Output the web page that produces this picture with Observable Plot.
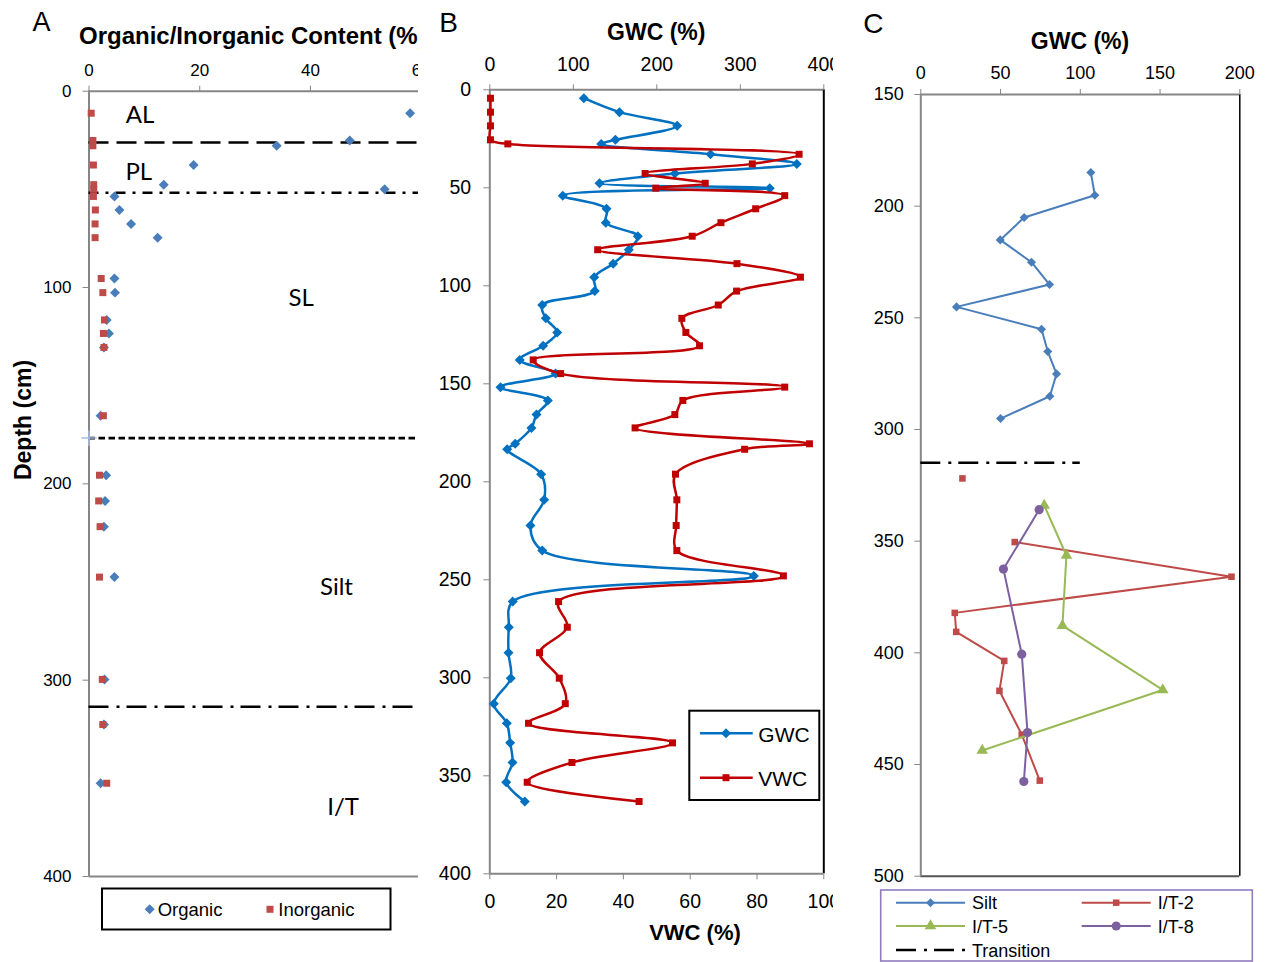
<!DOCTYPE html>
<html><head><meta charset="utf-8">
<script src="https://cdn.jsdelivr.net/npm/d3@7"></script>
<script src="https://cdn.jsdelivr.net/npm/@observablehq/plot@0.6"></script>
<style>
body{margin:0;background:#fff;}
#wrap{position:relative;width:1265px;height:962px;overflow:hidden;background:#fff;}
.panel{position:absolute;top:0;height:962px;overflow:hidden;}
.panel svg{position:absolute;left:0;top:0;max-width:none !important;}
#overlay{position:absolute;left:0;top:0;pointer-events:none;}
</style></head><body><div id="wrap"></div>
<script>
// ---------------- DATA ----------------
// Panel A: organic / inorganic content (%) vs depth (cm)
const aDepth      = [11.2,25.1,27.8,37.6,47.6,50.0,53.6,60.5,67.6,74.6,95.4,102.6,116.5,123.4,130.5,165.3,195.6,208.7,221.8,247.5,299.6,322.6,352.5];
const aOrganic    = [58.0,47.1,33.9,18.9,13.5,53.4,4.6,5.5,7.6,12.4,4.6,4.7,3.2,3.6,2.7,2.1,3.1,2.9,2.7,4.6,2.8,2.7,2.1];
const aInorganic  = [0.4,0.7,0.7,0.8,0.85,0.85,0.8,1.15,1.1,1.1,2.2,2.5,2.8,2.6,2.7,2.6,1.9,1.75,2.0,1.9,2.4,2.5,3.2];
const aBoundaries = [26.1, 51.7, 176.7, 313.5];           // AL/PL, PL/SL, SL/Silt, Silt/I-T
const aZoneNames  = ["AL","PL","SL","Silt","I/T"];
const aZoneX      = [9.2, 9.0, 38.3, 44.7, 45.9];
const aZoneDepth  = [12.5, 41.5, 105.4, 252.9, 364.6];
const aTicksX = [0,20,40,60];
const aTicksY = [0,100,200,300,400];

// Panel B: GWC (%) and VWC (%) vs depth (cm)
const bDepth = [4.3,11.4,18.4,25.5,27.6,32.9,37.8,42.7,47.7,50.2,54.0,60.7,67.8,74.7,81.6,88.7,95.6,102.7,109.8,116.6,123.8,130.6,137.8,144.8,151.7,158.5,165.7,172.5,180.6,183.4,196.1,209.2,222.3,235.1,248.0,261.1,274.2,287.2,300.2,313.2,323.2,333.2,343.2,353.3,363.1];
const bGWC   = [112.6,155.3,224.4,150.5,133.4,264.3,367.7,221.6,131.4,335.3,87.4,139.8,138.9,177.3,166.5,147.8,125.0,125.7,62.8,67.1,80.7,63.9,35.9,78.7,12.8,69.5,55.9,49.9,30.4,20.8,61.5,65.1,48.7,62.8,316.2,27.5,22.8,22.4,25.1,4.8,20.4,24.4,27.2,19.6,41.9];
const bVWC   = [0.2,0.2,0.2,0.2,5.4,92.6,78.6,46.5,64.5,49.7,88.3,79.6,69.2,60.6,32.3,74.0,93.0,73.9,68.4,57.5,58.7,62.8,13.0,21.2,88.3,57.8,55.4,43.5,95.7,76.3,55.6,56.0,55.8,56.0,87.9,20.6,23.2,14.9,20.8,22.6,11.6,54.7,24.6,11.2,44.7];
const bTicksGWC = [0,100,200,300,400];
const bTicksVWC = [0,20,40,60,80,100];
const bTicksY   = [0,50,100,150,200,250,300,350,400];

// Panel C: GWC (%) vs depth (cm) for four cores
const siltDepth = [184.9,195.1,205.1,215.1,225.1,235.1,245.1,255.1,265.1,275.1,285.1,295.1];
const siltGWC   = [106.6,109.1,64.8,49.8,69.4,80.7,22.4,75.7,79.6,85.1,80.9,50.0];
const it2Depth  = [321.9,350.4,365.9,382.1,390.6,403.6,417.0,436.6,457.2];
const it2GWC    = [26.1,58.9,194.8,21.3,22.2,52.3,49.3,63.3,74.6];
const it2Run    = [1,2,2,2,2,2,2,2,2];   // first sample is not joined to the rest
const it5Depth  = [334.0,356.4,387.8,416.6,443.7];
const it5GWC    = [77.4,91.3,88.8,151.7,38.5];
const it8Depth  = [335.9,362.5,400.6,435.7,457.6];
const it8GWC    = [74.2,51.8,63.3,66.9,64.6];
const cTransitionDepth = 314.9;
const cTransitionExtent = [0, 100];
const cTicksX = [0,50,100,150,200];
const cTicksY = [150,200,250,300,350,400,450,500];

// ---------------- STYLE ----------------
const FONT = "'Liberation Sans', Arial, sans-serif";
const AXIS = "#868686";
const COL = {org:"#4a7ebb", inorg:"#be4b48", gwc:"#0070c0", vwc:"#c00000",
             silt:"#4a7ebb", it2:"#be4b48", it5:"#98b954", it8:"#7d60a0"};
const aDash = ["20,8", "10,7,3,7", "6.5,3.5", "20,8,3,7"];

const wrap = document.getElementById("wrap");
function panel(left, width){
  const d = document.createElement("div");
  d.className = "panel"; d.style.left = left + "px"; d.style.width = width + "px";
  wrap.appendChild(d); return d;
}
const st = bg => ({fontFamily: FONT, background: bg, overflow: "visible", maxWidth: "none"});

// ---------------- PANEL A ----------------
const A = aDepth.map((d,i)=>({depth:d, organic:aOrganic[i], inorganic:aInorganic[i]}));
const zones = aZoneNames.map((n,i)=>({name:n, x:aZoneX[i], depth:aZoneDepth[i]}));
const plotA = Plot.plot({
  width: 430, height: 962,
  marginLeft: 88.5, marginRight: 9.3, marginTop: 90.7, marginBottom: 86,
  x: {domain:[0,60]}, y: {domain:[0,400], reverse:true},
  style: st("white"),
  marks: [
    Plot.ruleY([0], {stroke: AXIS, strokeWidth: 2}),
    Plot.ruleY([400], {stroke: AXIS, strokeWidth: 2}),
    Plot.ruleX([0], {stroke: AXIS, strokeWidth: 2}),
    Plot.axisX({anchor:"top", ticks:aTicksX, tickSize:6, tickPadding:9.7, fontSize:17, stroke:AXIS, fill:"black", label:null}),
    Plot.axisY({anchor:"left", ticks:aTicksY, tickSize:6, tickPadding:11.5, fontSize:17, stroke:AXIS, fill:"black", label:null}),
    ...aBoundaries.map((b,i)=>Plot.ruleY([b], {stroke:"black", strokeWidth:2.6, strokeDasharray:aDash[i]})),
    Plot.dot([aBoundaries[2]], {x:0, y:d=>d, symbol:"plus", r:5, stroke:"#a9bfe3", strokeWidth:1.5}),
    Plot.dot(A, {x:"organic", y:"depth", symbol:"diamond2", r:4.5, fill:COL.org, stroke:"none"}),
    Plot.dot(A, {x:"inorganic", y:"depth", symbol:"square", r:3.95, fill:COL.inorg, stroke:"none"}),
    Plot.text(zones, {x:"x", y:"depth", text:"name", fontSize:24, fontFamily:"Lato, 'Open Sans', sans-serif", fill:"black", textAnchor:"middle", lineAnchor:"middle"})
  ]
});
panel(0, 418).appendChild(plotA);

// ---------------- PANEL B ----------------
const B = bDepth.map((d,i)=>({depth:d, gwc:bGWC[i], vwc:bVWC[i]}));
const pB = panel(430, 403);
const plotB1 = Plot.plot({
  width: 420, height: 962,
  marginLeft: 59.3, marginRight: 26.7, marginTop: 89.3, marginBottom: 88.7,
  x: {domain:[0,400]}, y: {domain:[0,400], reverse:true},
  style: st("white"),
  marks: [
    Plot.ruleY([0], {stroke: AXIS, strokeWidth: 2}),
    Plot.ruleX([0], {stroke: AXIS, strokeWidth: 2}),
    Plot.ruleX([400], {stroke: "black", strokeWidth: 2}),
    Plot.axisX({anchor:"top", ticks:bTicksGWC, tickSize:6, tickPadding:12.5, fontSize:19.5, stroke:AXIS, fill:"black", label:null}),
    Plot.axisY({anchor:"left", ticks:bTicksY, tickSize:6, tickPadding:12.6, fontSize:19.5, stroke:AXIS, fill:"black", label:null}),
    Plot.line(B, {x:"gwc", y:"depth", curve:"catmull-rom", stroke:COL.gwc, strokeWidth:2.5}),
    Plot.dot(B, {x:"gwc", y:"depth", symbol:"diamond2", r:4.5, fill:COL.gwc, stroke:"none"})
  ]
});
const plotB2 = Plot.plot({
  width: 420, height: 962,
  marginLeft: 59.3, marginRight: 26.7, marginTop: 89.3, marginBottom: 88.7,
  x: {domain:[0,100]}, y: {domain:[0,400], reverse:true, axis:null},
  style: st("transparent"),
  marks: [
    Plot.ruleY([400], {stroke: AXIS, strokeWidth: 2}),
    Plot.axisX({anchor:"bottom", ticks:bTicksVWC, tickSize:6, tickPadding:14, fontSize:19.5, stroke:AXIS, fill:"black", label:null}),
    Plot.line(B, {x:"vwc", y:"depth", curve:"catmull-rom", stroke:COL.vwc, strokeWidth:2.5}),
    Plot.dot(B, {x:"vwc", y:"depth", symbol:"square", r:3.95, fill:COL.vwc, stroke:"none"})
  ]
});
pB.appendChild(plotB1); pB.appendChild(plotB2);

// ---------------- PANEL C ----------------
const silt = siltDepth.map((d,i)=>({depth:d, gwc:siltGWC[i]}));
const it2 = it2Depth.map((d,i)=>({depth:d, gwc:it2GWC[i], run:it2Run[i]}));
const it5 = it5Depth.map((d,i)=>({depth:d, gwc:it5GWC[i]}));
const it8 = it8Depth.map((d,i)=>({depth:d, gwc:it8GWC[i]}));
const plotC = Plot.plot({
  width: 415, height: 962,
  marginLeft: 70.3, marginRight: 25.7, marginTop: 94, marginBottom: 86.3,
  x: {domain:[0,200]}, y: {domain:[150,500], reverse:true},
  style: st("white"),
  marks: [
    Plot.ruleY([150], {stroke: AXIS, strokeWidth: 2}),
    Plot.ruleY([500], {stroke: "#555", strokeWidth: 2}),
    Plot.ruleX([0], {stroke: AXIS, strokeWidth: 2}),
    Plot.ruleX([200], {stroke: "black", strokeWidth: 1.5}),
    Plot.axisX({anchor:"top", ticks:cTicksX, tickSize:6, tickPadding:9.5, fontSize:18, stroke:AXIS, fill:"black", label:null}),
    Plot.axisY({anchor:"left", ticks:cTicksY, tickSize:6, tickPadding:11, fontSize:18, stroke:AXIS, fill:"black", label:null}),
    Plot.ruleY([cTransitionDepth], {x1:cTransitionExtent[0], x2:cTransitionExtent[1], stroke:"black", strokeWidth:2.6, strokeDasharray:"20,8,3,7"}),
    Plot.line(silt, {x:"gwc", y:"depth", stroke:COL.silt, strokeWidth:2}),
    Plot.dot(silt, {x:"gwc", y:"depth", symbol:"diamond2", r:4.1, fill:COL.silt, stroke:"none"}),
    Plot.line(it2, {x:"gwc", y:"depth", z:"run", stroke:COL.it2, strokeWidth:2}),
    Plot.dot(it2, {x:"gwc", y:"depth", symbol:"square", r:3.7, fill:COL.it2, stroke:"none"}),
    Plot.line(it5, {x:"gwc", y:"depth", stroke:COL.it5, strokeWidth:2}),
    Plot.dot(it5, {x:"gwc", y:"depth", symbol:"triangle", r:4.3, fill:COL.it5, stroke:"none"}),
    Plot.line(it8, {x:"gwc", y:"depth", stroke:COL.it8, strokeWidth:2}),
    Plot.dot(it8, {x:"gwc", y:"depth", symbol:"circle", r:4.6, fill:COL.it8, stroke:"none"})
  ]
});
panel(850, 415).appendChild(plotC);

// ---------------- TITLES & LEGENDS ----------------
const svg = d3.select(wrap).append("svg").attr("id","overlay").attr("width",1265).attr("height",962)
  .style("font-family", FONT);
svg.append("clipPath").attr("id","clipA").append("rect").attr("x",0).attr("y",0).attr("width",418).attr("height",962);
function txt(x,y,s,size,opts={}){
  const t = svg.append("text").attr("x",x).attr("y",y).attr("font-size",size).text(s)
    .attr("text-anchor", opts.anchor || "start").attr("font-weight", opts.bold ? "bold" : "normal").attr("fill","black");
  if (opts.clip) t.attr("clip-path", "url(#clipA)");
  if (opts.rotate) t.attr("transform", `rotate(-90 ${x} ${y})`);
  return t;
}
txt(41.5, 31, "A", 27, {anchor:"middle"});
txt(79, 44, "Organic/Inorganic Content (%)", 24, {bold:true, clip:true});
txt(30.5, 420, "Depth (cm)", 23, {bold:true, anchor:"middle", rotate:true});
txt(448.5, 32, "B", 28, {anchor:"middle"});
txt(656.3, 39.5, "GWC (%)", 23, {bold:true, anchor:"middle"});
txt(695, 940, "VWC (%)", 22, {bold:true, anchor:"middle"});
txt(873.3, 33, "C", 28, {anchor:"middle"});
txt(1080, 49, "GWC (%)", 23, {bold:true, anchor:"middle"});

const sym = (type, size) => d3.symbol().type(type).size(size)();
function marker(x,y,type,size,color){
  svg.append("path").attr("d", sym(type,size)).attr("transform",`translate(${x},${y})`).attr("fill",color);
}
// Legend A
svg.append("rect").attr("x",102).attr("y",888.5).attr("width",288.5).attr("height",41).attr("fill","white").attr("stroke","black").attr("stroke-width",2);
marker(149.7, 909.3, d3.symbolDiamond2, 64, COL.org);
txt(157.7, 916, "Organic", 18.5);
marker(270, 909.3, d3.symbolSquare, 49, COL.inorg);
txt(278.3, 916, "Inorganic", 18.5);

// Legend B
svg.append("rect").attr("x",689.3).attr("y",710.7).attr("width",130).attr("height",89.3).attr("fill","white").attr("stroke","black").attr("stroke-width",2);
const legB = [{name:"GWC", color:COL.gwc, type:d3.symbolDiamond2, size:64, y:733.3},
              {name:"VWC", color:COL.vwc, type:d3.symbolSquare, size:49, y:777.7}];
legB.forEach(l=>{
  svg.append("line").attr("x1",700).attr("x2",752.7).attr("y1",l.y).attr("y2",l.y).attr("stroke",l.color).attr("stroke-width",2.5);
  marker(726, l.y, l.type, l.size, l.color);
  txt(758.3, l.y+8.2, l.name, 21);
});

// Legend C
svg.append("rect").attr("x",880.7).attr("y",890).attr("width",371.6).attr("height",71).attr("fill","white").attr("stroke","#8f7bbd").attr("stroke-width",1.6);
const legC = [
  {name:"Silt", color:COL.silt, type:d3.symbolDiamond2, size:52, x:896, y:902.7},
  {name:"I/T-2", color:COL.it2, type:d3.symbolSquare, size:42, x:1081.7, y:902.7},
  {name:"I/T-5", color:COL.it5, type:d3.symbolTriangle, size:58, x:896, y:926},
  {name:"I/T-8", color:COL.it8, type:d3.symbolCircle, size:66, x:1081.7, y:926}
];
legC.forEach(l=>{
  svg.append("line").attr("x1",l.x).attr("x2",l.x+69).attr("y1",l.y).attr("y2",l.y).attr("stroke",l.color).attr("stroke-width",2);
  marker(l.x+34.5, l.y, l.type, l.size, l.color);
  txt(l.x+76, l.y+6.6, l.name, 18);
});
svg.append("line").attr("x1",896).attr("x2",965).attr("y1",950).attr("y2",950).attr("stroke","black").attr("stroke-width",2.6).attr("stroke-dasharray","20,8,3,7");
txt(972, 956.6, "Transition", 18);
</script></body></html>
